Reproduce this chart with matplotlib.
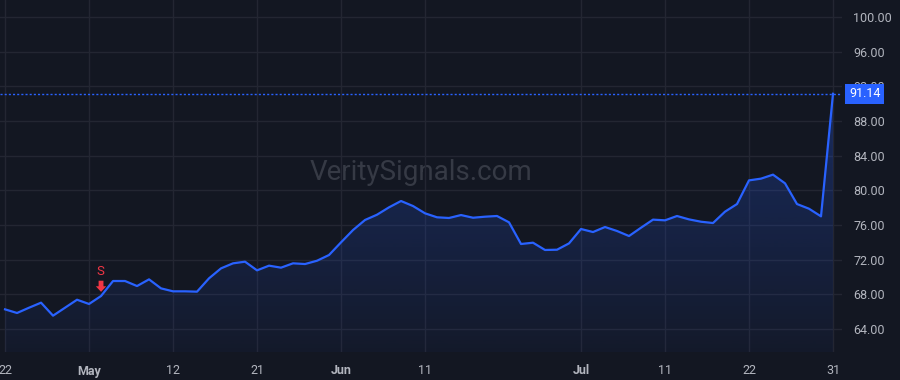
import matplotlib
matplotlib.use("Agg")
import matplotlib.pyplot as plt
import numpy as np
import pandas as pd

plt.rcParams["font.family"] = ["Roboto", "DejaVu Sans"]

# trading days, US market holidays excluded
holidays = ["2025-05-26", "2025-06-19", "2025-07-04"]
dates = pd.bdate_range("2025-04-22", "2025-07-31", freq="C", holidays=holidays)

prices = [
    66.27, 65.85, 66.46, 67.04, 65.54, 66.46, 67.38, 66.89, 67.81, 69.54,
    69.54, 68.96, 69.73, 68.69, 68.35, 68.35, 68.31, 69.85, 71.00, 71.58,
    71.77, 70.77, 71.31, 71.08, 71.58, 71.50, 71.88, 72.54, 74.00, 75.42,
    76.58, 77.19, 78.04, 78.77, 78.19, 77.35, 76.89, 76.81, 77.15, 76.84,
    76.96, 77.04, 76.31, 73.81, 73.96, 73.12, 73.15, 73.88, 75.54, 75.19,
    75.77, 75.31, 74.73, 75.69, 76.62, 76.54, 77.04, 76.65, 76.38, 76.23,
    77.54, 78.42, 81.15, 81.35, 81.81, 80.81, 78.42, 77.88, 77.00, 91.14,
]

tick_dates = ["2025-04-22", "2025-05-01", "2025-05-12", "2025-05-21", "2025-06-02",
              "2025-06-11", "2025-07-01", "2025-07-11", "2025-07-22", "2025-07-31"]
tick_labels = ["22", "May", "12", "21", "Jun", "11", "Jul", "11", "22", "31"]
month_labels = {"May", "Jun", "Jul"}

y_ticks = [64, 68, 72, 76, 80, 84, 88, 92, 96, 100]

signal_date = "2025-05-02"
signal_text = "S"
watermark = "VeritySignals.com"

BG = "#131722"
GRID = "#232632"
LINE = "#2962FF"
TEXT = "#B2B5BE"
RED = "#F23645"

x = np.arange(len(dates))
y = np.array(prices)

fig = plt.figure(figsize=(9, 3.8), dpi=100, facecolor=BG)
ax = fig.add_axes([0, 1 - 352 / 380, 842 / 900, 352 / 380])
ax.set_facecolor(BG)

XLIM = (-0.42, 69.75)
YLIM = (61.35, 101.96)

# gradient area under the line
ymin = YLIM[0]
rgba = np.zeros((256, 1, 4))
rgba[..., 0] = 41 / 255
rgba[..., 1] = 98 / 255
rgba[..., 2] = 1.0
rgba[..., 3] = np.linspace(0.28, 0.04, 256).reshape(-1, 1)
poly = ax.fill_between(x, y, ymin, color="none", lw=0)
img = ax.imshow(rgba, aspect="auto", extent=[x[0], x[-1], ymin, y.max()],
                origin="upper", zorder=1)
img.set_clip_path(poly.get_paths()[0], transform=ax.transData)
ax.set_xlim(*XLIM)
ax.set_ylim(*YLIM)

ax.plot(x, y, color=LINE, lw=1.6, zorder=3, solid_joinstyle="round")

# last price line and label
last = prices[-1]
ax.axhline(last, color=LINE, lw=1, ls=(0, (1.5, 1.5)), zorder=2)
ax.annotate(f"{last:.2f}", xy=(1.0, last), xycoords=("axes fraction", "data"),
            xytext=(5, 0), textcoords="offset points", ha="left", va="center",
            fontsize=9, color="white", annotation_clip=False, zorder=10,
            bbox=dict(boxstyle="square,pad=0.3", fc=LINE, ec="none"))

# sell signal
si = dates.get_loc(pd.Timestamp(signal_date))
ax.annotate("", xy=(si, prices[si]), xytext=(0, 11), textcoords="offset points",
            xycoords="data", zorder=5,
            arrowprops=dict(arrowstyle="simple,head_length=0.4,head_width=0.75,tail_width=0.35",
                            fc=RED, ec="none", shrinkA=0, shrinkB=3))
ax.annotate(signal_text, xy=(si, prices[si]), xytext=(-0.5, 17.5), textcoords="offset points",
            ha="center", va="center", fontsize=9.5, color=RED, zorder=5)

# watermark
ax.text(0.5, 0.51, watermark, transform=ax.transAxes, ha="center", va="center",
        fontsize=20, color="#363A45", zorder=0)

# axes styling
pos = [dates.get_loc(pd.Timestamp(d)) for d in tick_dates]
ax.set_xticks(pos)
ax.set_xticklabels(tick_labels)
for lab in ax.get_xticklabels():
    if lab.get_text() in month_labels:
        lab.set_fontweight("bold")
ax.set_yticks(y_ticks)
ax.set_yticklabels([f"{v:.2f}" for v in y_ticks])
ax.yaxis.tick_right()
ax.tick_params(axis="both", length=0, colors=TEXT, labelsize=9)
ax.tick_params(axis="y", pad=8)
ax.tick_params(axis="x", pad=9)
ax.grid(True, color=GRID, lw=1, zorder=0)
ax.set_axisbelow(True)
for s in ax.spines.values():
    s.set_visible(False)

fig.savefig("out.png", dpi=100, facecolor=BG)
